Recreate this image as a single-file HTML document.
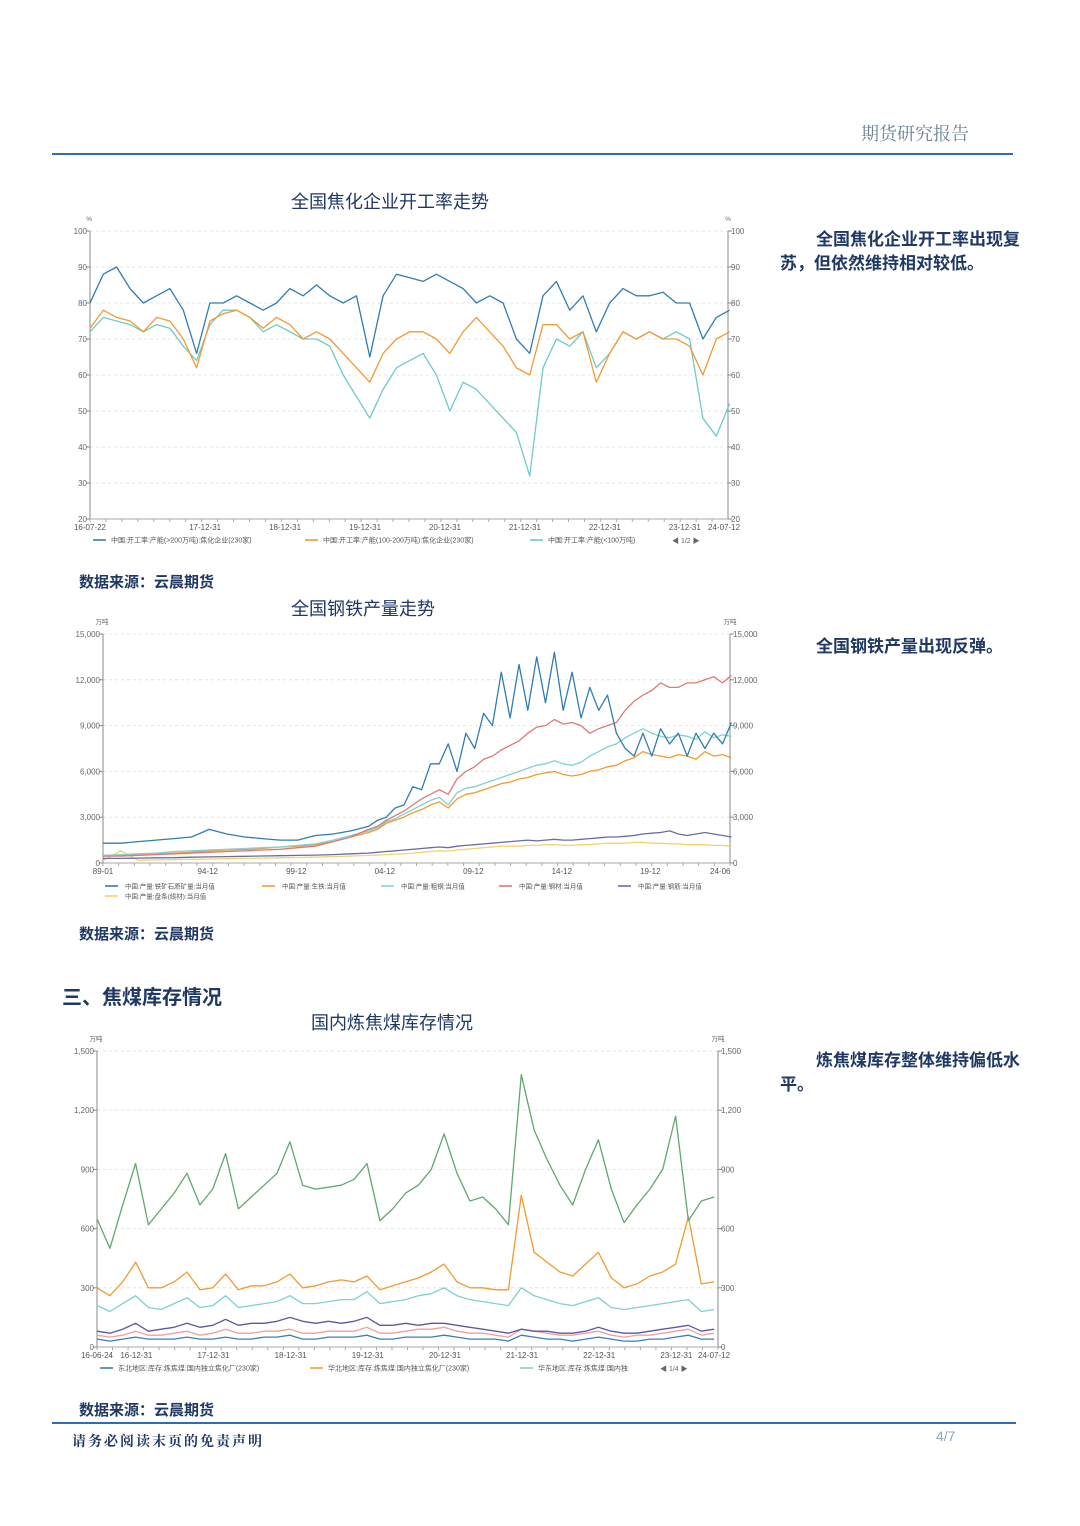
<!DOCTYPE html>
<html><head><meta charset="utf-8">
<style>
html,body{margin:0;padding:0;background:#fff;}
body{width:1080px;height:1526px;position:relative;overflow:hidden;font-family:"Liberation Sans","Noto Sans CJK SC",sans-serif;}
.abs{position:absolute;white-space:nowrap;}
.side{position:absolute;left:780px;width:262px;font-size:17px;line-height:24px;color:#1f3864;font-weight:bold;text-indent:36px;white-space:normal;}
.src{position:absolute;left:79px;font-size:15px;color:#1f3864;font-weight:bold;}
.ctitle{position:absolute;font-size:18px;color:#1f3864;}
svg text{font-family:"Liberation Sans","Noto Sans CJK SC",sans-serif;}
</style></head><body>
<div class="abs" style="left:861px;top:120px;font-size:18px;color:#6a7f9a;font-family:'Noto Serif CJK SC',serif;">期货研究报告</div>
<div class="abs" style="left:52px;top:153px;width:961px;height:2px;background:#2e6db4;"></div>

<div class="ctitle" style="left:291px;top:188px;">全国焦化企业开工率走势</div>
<div class="side" style="top:228px;">全国焦化企业开工率出现复苏，但依然维持相对较低。</div>
<svg id="c1" style="position:absolute;left:0;top:0" width="1080" height="560"></svg>
<div class="src" style="top:571px;">数据来源：云晨期货</div>

<div class="ctitle" style="left:291px;top:595px;">全国钢铁产量走势</div>
<div class="side" style="top:635px;">全国钢铁产量出现反弹。</div>
<svg id="c2" style="position:absolute;left:0;top:0" width="1080" height="910"></svg>
<div class="src" style="top:923px;">数据来源：云晨期货</div>

<div class="abs" style="left:62px;top:981px;font-size:20px;color:#1f3864;font-weight:bold;">三、焦煤库存情况</div>
<div class="ctitle" style="left:311px;top:1009px;">国内炼焦煤库存情况</div>
<div class="side" style="top:1049px;">炼焦煤库存整体维持偏低水平。</div>
<svg id="c3" style="position:absolute;left:0;top:0" width="1080" height="1390"></svg>
<div class="src" style="top:1399px;">数据来源：云晨期货</div>

<div class="abs" style="left:52px;top:1422px;width:964px;height:2px;background:#2e6db4;"></div>
<div class="abs" style="left:72px;top:1431px;font-size:14px;font-weight:bold;color:#1f3864;letter-spacing:2px;font-family:'Noto Serif CJK SC',serif;">请务必阅读末页的免责声明</div>
<div class="abs" style="left:936px;top:1428px;font-size:14px;color:#8fa7c7;">4/7</div>

<script>
// ---------- Chart 1 data ----------
const c1Times = Array.from({length:49},(_,i)=>2016.55+i/6);
const c1Large = [80,88,90,84,80,82,84,78,66,80,80,82,80,78,80,84,82,85,82,80,82,65,82,88,87,86,88,86,84,80,82,80,70,66,82,86,78,82,72,80,84,82,82,83,80,80,70,76,78];
const c1Mid = [73,78,76,75,72,76,75,70,62,75,77,78,76,73,76,74,70,72,70,66,62,58,66,70,72,72,70,66,72,76,72,68,62,60,74,74,70,72,58,66,72,70,72,70,70,68,60,70,72];
const c1Small = [72,76,75,74,72,74,73,68,64,74,78,78,76,72,74,72,70,70,68,60,54,48,56,62,64,66,60,50,58,56,52,48,44,32,62,70,68,72,62,66,72,70,72,70,72,70,48,43,52];
const c1YTicks = [20,30,40,50,60,70,80,90,100];
const c1XLabels = ["16-07-22","17-12-31","18-12-31","19-12-31","20-12-31","21-12-31","22-12-31","23-12-31","24-07-12"];
const c1XTimes = [2016.55,2017.99,2018.99,2019.99,2020.99,2021.99,2022.99,2023.99,2024.53];
const c1Legend = ["中国:开工率:产能(>200万吨):焦化企业(230家)","中国:开工率:产能(100-200万吨):焦化企业(230家)","中国:开工率:产能(<100万吨)"];

// ---------- Chart 2 data ----------
const c2Times = [1989,1990,1991,1992,1993,1994,1995,1996,1997,1998,1999,2000,2001,2002,2003].concat(Array.from({length:42},(_,i)=>2004+i/2));
const c2Ore = [1300,1300,1400,1500,1600,1700,2200,1900,1700,1600,1500,1500,1800,1900,2100,2400,2800,3000,3600,3800,5000,4800,6500,6500,7800,6000,8500,7500,9800,9000,12500,9500,13000,10000,13500,10500,13800,10000,12500,9500,11500,10000,11000,8500,7500,7000,8500,7000,8800,7800,8500,7000,8500,7500,8500,7800,9200];
const c2Pig = [450,500,550,600,650,700,800,850,900,950,1050,1100,1200,1400,1700,2000,2200,2600,2800,3000,3300,3500,3800,4000,3600,4200,4500,4600,4800,5000,5200,5300,5500,5600,5800,5900,6000,5800,5700,5800,6000,6100,6300,6400,6700,6900,7300,7100,7000,6900,7100,7000,6800,7300,7000,7100,6900];
const c2Crude = [500,550,600,650,750,800,850,900,950,1000,1050,1150,1250,1500,1800,2100,2300,2700,2900,3200,3500,3800,4100,4300,3800,4600,4900,5000,5200,5400,5600,5800,6000,6200,6400,6500,6700,6500,6400,6600,7000,7300,7600,7800,8200,8500,8800,8500,8300,8200,8400,8300,8100,8600,8200,8400,8300];
const c2Steel = [450,450,500,550,600,650,700,750,800,850,900,1000,1100,1400,1700,2200,2400,2800,3100,3400,3800,4200,4500,4800,4500,5500,6000,6300,6800,7000,7400,7700,8000,8500,8900,9000,9400,9100,9200,9000,8500,8800,9000,9200,10000,10600,11000,11300,11800,11500,11500,11800,11800,12000,12200,11800,12300];
const c2Billet = [300,300,320,340,350,380,400,420,440,460,480,500,520,550,600,650,700,750,800,850,900,950,1000,1050,1000,1100,1150,1200,1250,1300,1350,1400,1450,1500,1450,1500,1550,1500,1500,1550,1600,1650,1700,1700,1750,1800,1900,1950,2000,2100,1900,1800,1900,2000,1900,1800,1700];
const c2Wire = [150,800,180,200,220,240,260,280,300,320,340,360,380,420,450,500,520,550,580,600,650,700,750,800,780,850,900,950,1000,1050,1100,1100,1100,1150,1150,1200,1200,1150,1150,1200,1200,1250,1300,1300,1300,1350,1350,1300,1300,1250,1250,1200,1200,1200,1150,1150,1100];
const c2YTicks = [0,3000,6000,9000,12000,15000];
const c2XLabels = ["89-01","94-12","99-12","04-12","09-12","14-12","19-12","24-06"];
const c2XTimes = [1989,1994.92,1999.92,2004.92,2009.92,2014.92,2019.92,2024.42];
const c2Legend = ["中国:产量:铁矿石原矿量:当月值","中国:产量:生铁:当月值","中国:产量:粗钢:当月值","中国:产量:钢材:当月值","中国:产量:钢筋:当月值","中国:产量:盘条(线材):当月值"];

// ---------- Chart 3 data ----------
const c3Times = Array.from({length:49},(_,i)=>2016.48+i/6);
const c3Green = [650,500,720,930,620,700,780,880,720,800,980,700,760,820,880,1040,820,800,810,820,850,930,640,700,780,820,900,1080,880,740,760,700,620,1380,1100,950,820,720,900,1050,800,630,720,800,900,1170,640,740,760];
const c3Orange = [300,260,330,430,300,300,330,380,290,300,370,290,310,310,330,370,300,310,330,340,330,360,290,310,330,350,380,420,330,300,300,290,290,770,480,430,380,360,420,480,350,300,320,360,380,420,660,320,330];
const c3Cyan = [210,180,220,260,200,190,220,250,200,210,260,200,210,220,230,260,220,220,230,240,240,280,220,230,240,260,270,300,260,240,230,220,210,300,260,240,220,210,230,250,200,190,200,210,220,230,240,180,190];
const c3Purple = [80,70,90,120,80,90,100,120,100,110,140,110,120,120,130,150,130,120,130,120,130,150,110,110,120,110,120,120,110,100,90,80,70,90,80,80,70,70,80,100,80,70,70,80,90,100,110,80,90];
const c3Pink = [60,50,60,80,60,60,70,80,60,70,90,70,70,80,80,90,70,70,80,80,80,100,70,70,80,90,90,100,80,70,70,60,50,90,80,70,60,60,70,80,60,50,60,60,70,80,90,60,70];
const c3Blue = [40,30,40,50,40,40,40,50,40,40,50,40,40,50,50,60,40,40,50,50,50,60,40,40,50,50,50,60,50,40,40,40,30,60,50,40,40,30,40,50,40,30,30,40,40,50,60,40,40];
const c3YTicks = [0,300,600,900,1200,1500];
const c3XLabels = ["16-06-24","16-12-31","17-12-31","18-12-31","19-12-31","20-12-31","21-12-31","22-12-31","23-12-31","24-07-12"];
const c3XTimes = [2016.48,2016.99,2017.99,2018.99,2019.99,2020.99,2021.99,2022.99,2023.99,2024.53];
const c3Legend = ["东北地区:库存:炼焦煤:国内独立焦化厂(230家)","华北地区:库存:炼焦煤:国内独立焦化厂(230家)","华东地区:库存:炼焦煤:国内独"];

const NS="http://www.w3.org/2000/svg";
function mk(svg,tag,attrs){const e=document.createElementNS(NS,tag);for(const k in attrs)e.setAttribute(k,attrs[k]);svg.appendChild(e);return e;}
function txt(svg,x,y,s,size,anchor,fill){const t=mk(svg,'text',{x:x,y:y,'font-size':size,'text-anchor':anchor,fill:fill||'#555'});t.textContent=s;return t;}

function axes(svg,cfg){
  const {x0,x1,y0,y1,yTicks,yFmt,xLabels,xTimes,xs,ys,unit}=cfg;
  yTicks.forEach(v=>{
    const y=ys(v);
    const g=mk(svg,'line',{x1:x0,x2:x1,y1:y,y2:y,stroke:'#ddd','stroke-dasharray':'3,3','stroke-width':0.8});
    
    
    mk(svg,'line',{x1:x0-4,x2:x0,y1:y,y2:y,stroke:'#888'});
    mk(svg,'line',{x1:x1,x2:x1+4,y1:y,y2:y,stroke:'#888'});
    const l=txt(svg,x0-3,y+3,yFmt(v),8,'end','#666');
    
    
    txt(svg,x1+3,y+3,yFmt(v),8,'start','#666');
  });
  mk(svg,'line',{x1:x0,x2:x0,y1:y0,y2:y1,stroke:'#888'});
  mk(svg,'line',{x1:x1,x2:x1,y1:y0,y2:y1,stroke:'#888'});
  mk(svg,'line',{x1:x0,x2:x1,y1:y1,y2:y1,stroke:'#aaa'});
  for(let x=x0;x<=x1;x+=(x1-x0)/40){mk(svg,'line',{x1:x,x2:x,y1:y1,y2:y1+3,stroke:'#aaa'});}
  xLabels.forEach((s,i)=>{
    const x=xs(xTimes[i]);
    const last=i===xLabels.length-1;
    const t=txt(svg,last?x-20:x,y1+11,s,8,last?'start':'middle','#555');
    
    
  });
  txt(svg,x0-1,y0-10,unit,6.5,'middle','#666');
  txt(svg,x1,y0-10,unit,6.5,'middle','#666');
}
function series(svg,times,vals,xs,ys,color,name){
  const d=vals.map((v,i)=>(i?'L':'M')+xs(times[i]).toFixed(1)+','+ys(v).toFixed(1)).join(' ');
  const p=mk(svg,'path',{d:d,fill:'none',stroke:color,'stroke-width':1.3,'stroke-linejoin':'round'});
  
  
}

// Chart 1
(function(){
  const svg=document.getElementById('c1');
  const x0=90,x1=728,y0=231,y1=519;
  const xs=t=>x0+(t-2016.55)/(2024.53-2016.55)*(x1-x0);
  const ys=v=>y1-(v-20)/80*(y1-y0);
  axes(svg,{x0,x1,y0,y1,yTicks:c1YTicks,yFmt:v=>String(v),xLabels:c1XLabels,xTimes:c1XTimes,xs,ys,unit:'%'});
  series(svg,c1Times,c1Small,xs,ys,'#6fcaca','series-small-capacity');
  series(svg,c1Times,c1Mid,xs,ys,'#f39a30','series-mid-capacity');
  series(svg,c1Times,c1Large,xs,ys,'#2f7eb0','series-large-capacity');
  const cols=['#2f7eb0','#f39a30','#6fcaca'];
  [[93,c1Legend[0]],[305,c1Legend[1]],[530,c1Legend[2]]].forEach((a,i)=>{
    const l=mk(svg,'line',{x1:a[0],x2:a[0]+13,y1:540,y2:540,stroke:cols[i],'stroke-width':1.6});
    
    
    txt(svg,a[0]+18,542.5,a[1],7,'start','#555');
  });
  txt(svg,672,543,'◀ 1/2 ▶',7,'start','#666');
})();

// Chart 2
(function(){
  const svg=document.getElementById('c2');
  const x0=103,x1=730,y0=634,y1=863;
  const xs=t=>x0+(t-1989)/(2024.42-1989)*(x1-x0);
  const ys=v=>y1-v/15000*(y1-y0);
  axes(svg,{x0,x1,y0,y1,yTicks:c2YTicks,yFmt:v=>v.toLocaleString('en-US'),xLabels:c2XLabels,xTimes:c2XTimes,xs,ys,unit:'万吨'});
  series(svg,c2Times,c2Wire,xs,ys,'#f2d46a','series-wire-rod');
  series(svg,c2Times,c2Billet,xs,ys,'#6b6ba8','series-rebar');
  series(svg,c2Times,c2Pig,xs,ys,'#f39a30','series-pig-iron');
  series(svg,c2Times,c2Crude,xs,ys,'#7fd3d3','series-crude-steel');
  series(svg,c2Times,c2Steel,xs,ys,'#e07878','series-steel-products');
  series(svg,c2Times,c2Ore,xs,ys,'#2f7eb0','series-iron-ore');
  const cols=['#2f7eb0','#f39a30','#7fd3d3','#e07878','#6b6ba8','#f2d46a'];
  const pos=[[105,886],[262,886],[381,886],[499,886],[618,886],[105,896]];
  c2Legend.forEach((s,i)=>{
    const l=mk(svg,'line',{x1:pos[i][0],x2:pos[i][0]+13,y1:pos[i][1],y2:pos[i][1],stroke:cols[i],'stroke-width':1.6});
    
    
    txt(svg,pos[i][0]+20,pos[i][1]+2.5,s,6.5,'start','#555');
  });
})();

// Chart 3
(function(){
  const svg=document.getElementById('c3');
  const x0=97,x1=718,y0=1051,y1=1347;
  const xs=t=>x0+(t-2016.48)/(2024.53-2016.48)*(x1-x0);
  const ys=v=>y1-v/1500*(y1-y0);
  axes(svg,{x0,x1,y0,y1,yTicks:c3YTicks,yFmt:v=>v.toLocaleString('en-US'),xLabels:c3XLabels,xTimes:c3XTimes,xs,ys,unit:'万吨'});
  series(svg,c3Times,c3Blue,xs,ys,'#3a7fb8','series-northeast');
  series(svg,c3Times,c3Pink,xs,ys,'#f0a0a0','series-pink');
  series(svg,c3Times,c3Purple,xs,ys,'#5a5aa0','series-purple');
  series(svg,c3Times,c3Cyan,xs,ys,'#7fd0d0','series-east-china');
  series(svg,c3Times,c3Orange,xs,ys,'#f39a30','series-north-china');
  series(svg,c3Times,c3Green,xs,ys,'#5fa870','series-green');
  const cols=['#3a7fb8','#f39a30','#7fd0d0'];
  [[100,c3Legend[0]],[310,c3Legend[1]],[520,c3Legend[2]]].forEach((a,i)=>{
    const l=mk(svg,'line',{x1:a[0],x2:a[0]+13,y1:1368,y2:1368,stroke:cols[i],'stroke-width':1.6});
    
    
    txt(svg,a[0]+18,1370.5,a[1],7,'start','#555');
  });
  txt(svg,660,1371,'◀ 1/4 ▶',7,'start','#666');
})();
</script>
</body></html>
